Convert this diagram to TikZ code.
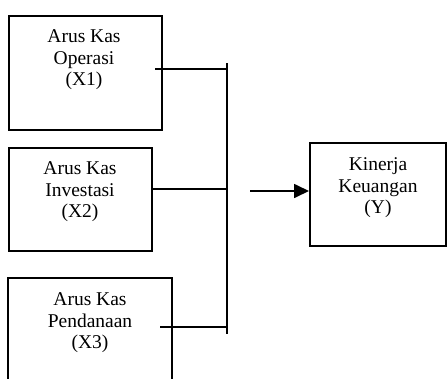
\documentclass[tikz,border=0pt]{standalone}
\usepackage{fontspec}
\setmainfont{Liberation Serif}
\usetikzlibrary{arrows.meta}
\begin{document}
\begin{tikzpicture}[x=1pt,y=-1pt,
  boxline/.style={draw,line width=1.6pt},
  boxnode/.style={boxline,rectangle,inner sep=0pt,anchor=north west},
  lbl/.style={align=center,inner sep=0pt,font=\fontsize{19.5}{21.5}\selectfont},
  conn/.style={line width=1.7pt},
  arr/.style={line width=1.7pt,-{Triangle[length=15pt,width=14pt]}}]
\useasboundingbox (0,0) rectangle (447,378);
% boxes
\node[boxnode,minimum width=153pt,minimum height=114pt] (b1) at (8,15) {};
\node[boxnode,minimum width=143pt,minimum height=103pt] (b2) at (8,147) {};
\coordinate (b3bl) at (8,385);
\coordinate (b3tl) at (8,278);
\coordinate (b3tr) at (172,278);
\coordinate (b3br) at (172,385);
\draw[boxline] (b3bl) -- (b3tl) -- (b3tr) -- (b3br);
\node[boxnode,minimum width=136pt,minimum height=103pt] (bY) at (309,142) {};
% labels
\node[lbl] (t1) at (84,60) {Arus Kas\\Operasi\\(X1)};
\node[lbl] (t2) at (80,192) {Arus Kas\\Investasi\\(X2)};
\node[lbl] (t3) at (90,323) {Arus Kas\\Pendanaan\\(X3)};
\node[lbl] (tY) at (378,188) {Kinerja\\Keuangan\\(Y)};
% bus
\coordinate (bustop) at (227,63);
\coordinate (busbot) at (227,334);
\draw[conn] (bustop) -- (busbot);
\coordinate (s1) at (155,69);
\coordinate (s2) at (151,189);
\coordinate (s3) at (160,327);
\draw[conn] (s1) -- (s1 -| bustop);
\draw[conn] (s2) -- (s2 -| bustop);
\draw[conn] (s3) -- (s3 -| bustop);
\coordinate (a0) at (250,191);
\draw[arr] (a0) -- (a0 -| bY.west);
\end{tikzpicture}
\end{document}
